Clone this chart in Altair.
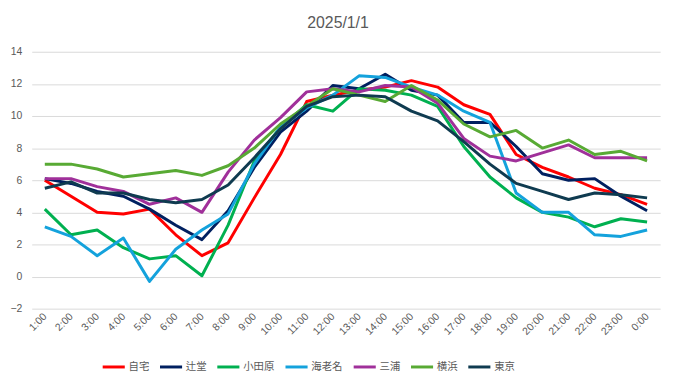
import altair as alt
import pandas as pd

hours = ["1:00", "2:00", "3:00", "4:00", "5:00", "6:00", "7:00", "8:00", "9:00", "10:00",
         "11:00", "12:00", "13:00", "14:00", "15:00", "16:00", "17:00", "18:00", "19:00",
         "20:00", "21:00", "22:00", "23:00", "0:00"]

jitaku = [6.0, 5.0, 4.0, 3.9, 4.2, 2.6, 1.3, 2.1, 4.9, 7.6, 10.9, 11.3, 11.6, 11.8, 12.2, 11.8,
          10.7, 10.1, 7.6, 6.8, 6.2, 5.5, 5.1, 4.5]
tsujido = [6.1, 5.8, 5.3, 5.0, 4.2, 3.2, 2.3, 4.1, 6.8, 9.0, 10.3, 11.9, 11.7, 12.6, 11.6, 11.3,
           9.6, 9.6, 8.1, 6.4, 6.0, 6.1, 5.0, 4.1]
odawara = [4.2, 2.6, 2.9, 1.8, 1.1, 1.3, 0.05, 3.2, 7.2, 9.3, 10.7, 10.3, 11.7, 11.6, 11.3, 10.6,
           8.1, 6.2, 4.9, 4.0, 3.7, 3.1, 3.6, 3.4]
ebina = [3.1, 2.5, 1.3, 2.4, -0.3, 1.7, 2.9, 3.9, 7.0, 9.3, 10.5, 11.3, 12.5, 12.4, 11.8, 11.3,
         10.3, 9.6, 5.2, 4.0, 4.0, 2.6, 2.5, 2.9]
miura = [6.1, 6.1, 5.6, 5.3, 4.5, 4.9, 4.0, 6.5, 8.5, 9.9, 11.5, 11.7, 11.5, 11.9, 11.8, 10.8,
         8.6, 7.5, 7.2, 7.7, 8.2, 7.4, 7.4, 7.4]
yokohama = [7.0, 7.0, 6.7, 6.2, 6.4, 6.6, 6.3, 6.9, 8.0, 9.5, 10.6, 11.7, 11.3, 10.9, 11.9, 11.0,
            9.5, 8.7, 9.1, 8.0, 8.5, 7.6, 7.8, 7.2]
tokyo = [5.5, 5.9, 5.2, 5.2, 4.8, 4.6, 4.8, 5.7, 7.4, 9.2, 10.6, 11.2, 11.3, 11.2, 10.3, 9.7,
         8.4, 7.0, 5.8, 5.3, 4.8, 5.2, 5.1, 4.9]

series_names = ["自宅", "辻堂", "小田原", "海老名", "三浦", "横浜", "東京"]
series_values = [jitaku, tsujido, odawara, ebina, miura, yokohama, tokyo]
series_colors = ["#FF0000", "#002060", "#00B050", "#14A2DC", "#A0309A", "#58AA34", "#0F3B50"]
y_ticks = [-2, 0, 2, 4, 6, 8, 10, 12, 14]

rows = []
for name, vals in zip(series_names, series_values):
    for h, v in zip(hours, vals):
        rows.append({"time": h, "value": v, "series": name})
df = pd.DataFrame(rows)

FONT = "Liberation Sans, Noto Sans CJK JP, sans-serif"
GRAY = "#595959"

lines = alt.Chart(df).mark_line(strokeWidth=3, strokeJoin="round").encode(
    x=alt.X("time:N", sort=hours, title=None,
            axis=alt.Axis(labelAngle=-45, labelAlign="right", labelBaseline="middle",
                          labelPadding=6, ticks=False, domain=False, grid=False,
                          labelFontSize=10.5, labelColor=GRAY, labelFont=FONT)),
    y=alt.Y("value:Q", title=None,
            scale=alt.Scale(domain=[-2, 14], nice=False, zero=False),
            axis=alt.Axis(values=y_ticks, ticks=False, domain=False, grid=True,
                          gridColor="#D9D9D9", gridWidth=1, labelPadding=10,
                          labelFontSize=10.5, labelColor=GRAY, labelFont=FONT)),
    color=alt.Color("series:N", sort=series_names, title=None,
                    scale=alt.Scale(domain=series_names, range=series_colors),
                    legend=alt.Legend(orient="none", legendX=70, legendY=306,
                                      direction="horizontal", columns=7,
                                      symbolType="stroke", symbolSize=500,
                                      symbolStrokeWidth=3, labelFontSize=10.5,
                                      labelColor=GRAY, labelFont=FONT,
                                      labelOffset=2, columnPadding=4)),
)

chart = lines.properties(
    width=636,
    height=260,
    title=alt.TitleParams("2025/1/1", fontSize=16, color=GRAY, fontWeight="normal",
                          font=FONT, anchor="middle", offset=16, dx=-8),
    autosize=alt.AutoSizeParams(type="none"),
    padding={"left": 24, "top": 42, "right": 15, "bottom": 78},
    background="white",
).configure_view(stroke=None)

chart.save("out.html", embed_options={"renderer": "svg", "actions": False})
